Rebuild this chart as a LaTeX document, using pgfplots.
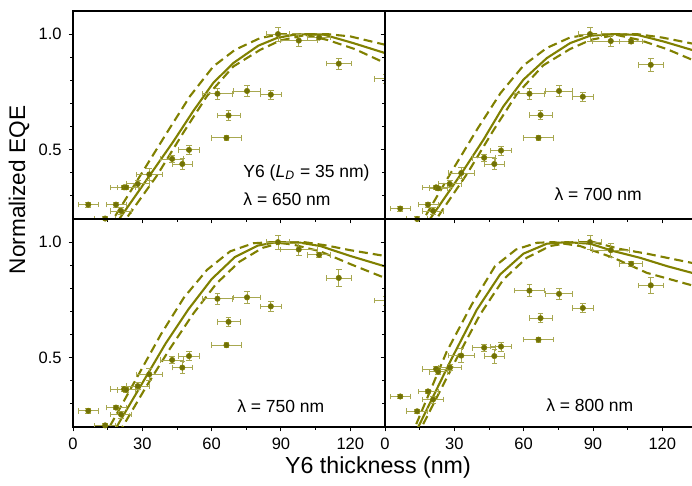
\documentclass[border=0pt]{standalone}
\usepackage{fontspec}
\setmainfont{Liberation Sans}
\usepackage{pgfplots}
\usepackage{pgfplotstable}
\pgfplotsset{compat=1.18}
\definecolor{ol}{RGB}{128,128,0}
\definecolor{olmark}{RGB}{112,112,8}
\definecolor{olerr}{RGB}{168,168,80}

\pgfplotstableread{
t v ex ey
6.6 0.262 4.3 0.01
13.9 0.202 4.5 0.01
18.6 0.262 4.3 0.01
20.8 0.235 4.5 0.015
22.1 0.337 6 0.01
23.0 0.337 4 0.01
28.0 0.352 5 0.015
33.0 0.393 5.5 0.025
42.9 0.460 5 0.015
47.3 0.438 4.5 0.025
50.2 0.499 4.5 0.02
62.5 0.742 6.5 0.025
66.4 0.551 6.5 0.01
67.3 0.648 5 0.02
75.3 0.754 6 0.025
85.6 0.738 4.5 0.02
88.7 1.000 5 0.03
97.7 0.972 8 0.025
106.5 0.985 5 0.01
115.0 0.872 5.5 0.025
135.5 0.807 5 0.02
}\dataA
\pgfplotstableread{
t v ex ey
6.6 0.245 4.3 0.01
13.9 0.200 4.5 0.01
18.6 0.262 4.3 0.01
20.8 0.235 4.5 0.015
22.1 0.337 6 0.01
23.0 0.333 4 0.01
28.0 0.352 5 0.015
33.0 0.399 5.5 0.025
42.9 0.465 5 0.015
47.3 0.438 4.5 0.025
50.2 0.496 4.5 0.02
62.5 0.742 6.5 0.025
66.4 0.551 6.5 0.01
67.3 0.650 5 0.02
75.3 0.754 6 0.025
85.6 0.729 4.5 0.02
88.7 1.000 5 0.03
97.7 0.970 8 0.025
106.5 0.968 5 0.01
115.0 0.867 5.5 0.03
}\dataB
\pgfplotstableread{
t v ex ey
6.6 0.270 4.3 0.01
13.9 0.207 4.5 0.01
18.6 0.284 4.3 0.01
20.8 0.254 4.5 0.015
22.1 0.364 6 0.01
23.0 0.361 4 0.01
28.0 0.377 5 0.015
33.0 0.428 5.5 0.025
42.9 0.490 5 0.015
47.3 0.457 4.5 0.025
50.2 0.507 4.5 0.02
62.5 0.755 6.5 0.025
66.4 0.554 6.5 0.01
67.3 0.655 5 0.02
75.3 0.761 6 0.025
85.6 0.722 4.5 0.02
88.7 1.000 5 0.03
97.7 0.968 8 0.025
106.5 0.945 5 0.01
115.0 0.845 5.5 0.035
135.5 0.747 5 0.02
}\dataC
\pgfplotstableread{
t v ex ey
6.6 0.332 4.3 0.01
13.9 0.268 4.5 0.01
18.6 0.354 4.3 0.01
20.8 0.319 4.5 0.015
22.1 0.451 6 0.01
23.0 0.439 4 0.01
28.0 0.458 5 0.015
33.0 0.509 5.5 0.03
42.9 0.543 5 0.015
47.3 0.507 4.5 0.03
50.2 0.548 4.5 0.02
62.5 0.790 6.5 0.025
66.4 0.578 6.5 0.01
67.3 0.671 5 0.02
75.3 0.776 6 0.025
85.6 0.715 4.5 0.02
88.7 1.000 5 0.03
97.7 0.965 8 0.03
106.5 0.906 5 0.01
115.0 0.813 5.5 0.035
}\dataD

\pgfplotsset{
  panel/.style={
    scale only axis, width=156pt, height=104pt,
    xmin=0, xmax=135, ymin=0.2, ymax=1.1,
    xtick={0,30,60,90,120}, minor xtick={15,45,75,105},
    ytick={0.5,1.0}, minor ytick={0.3,0.4,0.6,0.7,0.8,0.9},
    tick align=outside, xtick pos=left, ytick pos=left,
    major tick length=2.2pt, minor tick length=1.3pt,
    axis line style={line width=0.6pt},
    every tick/.style={black, line width=0.5pt},
    tick label style={font=\fontsize{8.25}{9}\selectfont},
    /pgf/number format/assume math mode=true,
    yticklabel style={/pgf/number format/.cd, fixed, fixed zerofill, precision=1},
    clip=true,
  },
  pts/.style={only marks, mark=*, mark size=1.35pt, mark options={fill=olmark, draw=ol, line width=0.3pt},
    error bars/.cd, x dir=both, x explicit, y dir=both, y explicit,
    error bar style={olerr, line width=0.4pt},
    error mark options={rotate=90, olerr, mark size=1.4pt, line width=0.4pt}},
  sol/.style={ol, line width=1.05pt},
  das/.style={ol, line width=1.05pt, dash pattern=on 4.5pt off 2.5pt},
}

\begin{document}
\begin{tikzpicture}
% top left: 650 nm
\begin{axis}[panel, at={(0pt,104pt)}, anchor=south west, xticklabels={}]
\addplot[das] coordinates {(12,0.11)(17.7,0.204)(29,0.386)(40.6,0.573)(50.6,0.731)(60.7,0.860)(70.1,0.932)(81,0.983)(90,1.0)(100,0.998)(110,0.975)(122,0.935)(135,0.875)};
\addplot[das] coordinates {(17,0.11)(23.2,0.204)(36.2,0.386)(47.7,0.573)(57.9,0.731)(69.4,0.860)(81,0.932)(89.6,0.972)(101,0.997)(110,1.0)(120,0.99)(135,0.954)};
\addplot[sol] coordinates {(14.5,0.11)(20.3,0.204)(33,0.386)(43.4,0.535)(52.1,0.668)(60.7,0.789)(69.4,0.875)(80.2,0.950)(88.2,0.983)(95.4,0.997)(102,1.0)(108.4,0.998)(121.3,0.961)(135,0.918)};
\addplot[pts] table[x=t, y=v, x error=ex, y error=ey] {\dataA};
\node[anchor=west, font=\fontsize{8.75}{10}\selectfont, inner sep=0pt] at (axis cs:73.6,0.40) {Y6 (\textit{L}\textsubscript{\textit{D}} = 35 nm)};
\node[anchor=west, font=\fontsize{8.75}{10}\selectfont, inner sep=0pt] at (axis cs:73.6,0.284) {λ = 650 nm};
\end{axis}
% top right: 700 nm
\begin{axis}[panel, at={(156pt,104pt)}, anchor=south west, xticklabels={}, yticklabels={}]
\addplot[das] coordinates {(12,0.11)(17,0.204)(28.5,0.40)(40,0.59)(50,0.745)(60,0.865)(70,0.94)(80,0.985)(89,1.0)(100,0.997)(110,0.975)(122,0.935)(135,0.88)};
\addplot[das] coordinates {(16.5,0.11)(22.5,0.204)(35.8,0.40)(47,0.585)(57,0.74)(68.5,0.865)(80,0.935)(89,0.975)(100,0.997)(109,1.0)(120,0.985)(135,0.955)};
\addplot[sol] coordinates {(14,0.11)(19.5,0.20)(33.2,0.399)(42.6,0.543)(51.2,0.687)(59.9,0.803)(70,0.896)(80.1,0.961)(88.8,0.993)(98.9,1.0)(109,0.997)(120.5,0.968)(135,0.925)};
\addplot[pts] table[x=t, y=v, x error=ex, y error=ey] {\dataB};
\node[anchor=west, font=\fontsize{8.75}{10}\selectfont, inner sep=0pt] at (axis cs:73.2,0.305) {λ = 700 nm};
\end{axis}
% bottom left: 750 nm
\begin{axis}[panel, at={(0pt,0pt)}, anchor=south west]
\addplot[das] coordinates {(10,0.10)(13,0.15)(18,0.24)(28,0.42)(38,0.6)(48,0.76)(58,0.88)(68,0.96)(78,0.995)(86,1.0)(95,0.99)(107,0.96)(120,0.905)(135,0.845)};
\addplot[das] coordinates {(13,0.07)(17,0.13)(22,0.21)(32,0.38)(42,0.54)(52,0.69)(62,0.82)(72,0.915)(82,0.975)(90,0.997)(100,1.0)(110,0.985)(120,0.965)(135,0.94)};
\addplot[sol] coordinates {(11,0.08)(15,0.13)(20,0.22)(30,0.39)(40,0.56)(50,0.71)(60,0.84)(70,0.935)(80,0.985)(88,1.0)(98,0.998)(107,0.983)(120,0.94)(135,0.895)};
\addplot[pts] table[x=t, y=v, x error=ex, y error=ey] {\dataC};
\node[anchor=west, font=\fontsize{8.75}{10}\selectfont, inner sep=0pt] at (axis cs:70.9,0.291) {λ = 750 nm};
\end{axis}
% bottom right: 800 nm
\begin{axis}[panel, at={(156pt,0pt)}, anchor=south west, yticklabels={}]
\addplot[das] coordinates {(9,0.10)(13,0.20)(26.7,0.526)(37.5,0.729)(47.6,0.896)(56.7,0.968)(65.7,0.997)(73,1.0)(84.4,0.983)(98.9,0.932)(113.3,0.867)(132.8,0.813)(135,0.807)};
\addplot[das] coordinates {(12,0.10)(15.9,0.2)(30.3,0.483)(41.1,0.686)(51.2,0.838)(61.3,0.932)(71.4,0.983)(81.5,1.0)(90.3,1.0)(101.8,0.97)(113.3,0.95)(132.8,0.91)(135,0.905)};
\addplot[sol] coordinates {(10.5,0.10)(14.4,0.20)(28.9,0.497)(39.7,0.707)(49.8,0.860)(59.9,0.950)(70,0.993)(78.6,1.0)(88.8,0.993)(98.9,0.961)(110.4,0.932)(122,0.896)(132.8,0.867)(135,0.862)};
\addplot[pts] table[x=t, y=v, x error=ex, y error=ey] {\dataD};
\node[anchor=west, font=\fontsize{8.75}{10}\selectfont, inner sep=0pt] at (axis cs:69.6,0.294) {λ = 800 nm};
\end{axis}
\node[font=\fontsize{11.6}{13}\selectfont] at (152.5pt,-20.5pt) {Y6 thickness (nm)};
\node[font=\fontsize{11.3}{13}\selectfont, rotate=90] at (-27pt,118.5pt) {Normalized EQE};
\pgfresetboundingbox
\useasboundingbox (-36.5pt,-29.5pt) rectangle (309.5pt,213.5pt);
\end{tikzpicture}
\end{document}
